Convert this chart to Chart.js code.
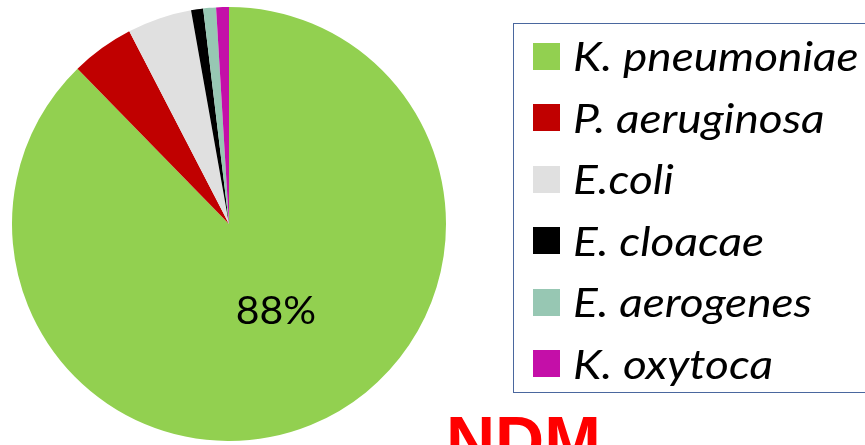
<!DOCTYPE html>
<html>
<head>
<meta charset="utf-8">
<script src="https://cdn.jsdelivr.net/npm/chart.js@4/dist/chart.umd.min.js"></script>
<style>
  html, body { margin: 0; padding: 0; background: #fff; overflow: hidden; }
  #wrap { position: relative; width: 865px; height: 445px; }
  #c { position: absolute; left: 0; top: 0; }
  #legend {
    position: absolute; left: 513px; top: 23px; width: 400px; height: 370px;
    border: 1px solid #4A679E; box-sizing: border-box;
  }
  .item { position: absolute; left: 19px; height: 40px; display: flex; align-items: center;
    font-family: Lato, "Open Sans", sans-serif; font-style: italic; font-size: 40px; color: #000; white-space: nowrap; }
  .sw { width: 27px; height: 27px; margin-right: 13px; flex: none; }
  .txt { display: inline-block; transform: scaleX(1.15); transform-origin: 0 50%; }
  #pct { position: absolute; font-family: Lato, "Open Sans", sans-serif; font-size: 39px; color: #000;
    transform: translate(-50%, -50%) scaleX(1.05); }
  #title { position: absolute; left: 446px; top: 406px; font-family: "Liberation Sans", Arial, sans-serif;
    font-weight: bold; font-size: 68px; color: #FF0000; line-height: 1; }
</style>
</head>
<body>
<div id="wrap">
  <canvas id="c" width="865" height="445"></canvas>
  <div id="legend"></div>
  <div id="pct"></div>
  <div id="title">NDM</div>
</div>
<script>
const categories = ["K. pneumoniae", "P. aeruginosa", "E.coli", "E. cloacae", "E. aerogenes", "K. oxytoca"];
const values = [87.7, 4.7, 4.8, 0.9, 0.95, 0.95];
const colors = ["#92D050", "#C00000", "#E0E0E0", "#000000", "#97C7B3", "#C40FA8"];
const labeledIndex = 0;

const chart = new Chart(document.getElementById('c'), {
  type: 'pie',
  data: {
    labels: categories,
    datasets: [{ data: values, backgroundColor: colors, borderWidth: 0 }]
  },
  options: {
    responsive: false,
    animation: false,
    layout: { padding: { left: 12, right: 419, top: 7, bottom: 4 } },
    plugins: { legend: { display: false }, tooltip: { enabled: false } }
  }
});

// Legend (HTML, built from data)
const legend = document.getElementById('legend');
categories.forEach((name, i) => {
  const d = document.createElement('div');
  d.className = 'item';
  d.style.top = (12 + i * 61.5) + 'px';
  const sw = document.createElement('span');
  sw.className = 'sw';
  sw.style.background = colors[i];
  const t = document.createElement('span');
  t.className = 'txt';
  t.textContent = name;
  d.appendChild(sw); d.appendChild(t);
  legend.appendChild(d);
});

// Percentage label for the large slice
const total = values.reduce((a, b) => a + b, 0);
const pct = document.getElementById('pct');
pct.textContent = Math.round(values[labeledIndex] / total * 100) + '%';
pct.style.left = '276px';
pct.style.top = '309px';
</script>
</body>
</html>
